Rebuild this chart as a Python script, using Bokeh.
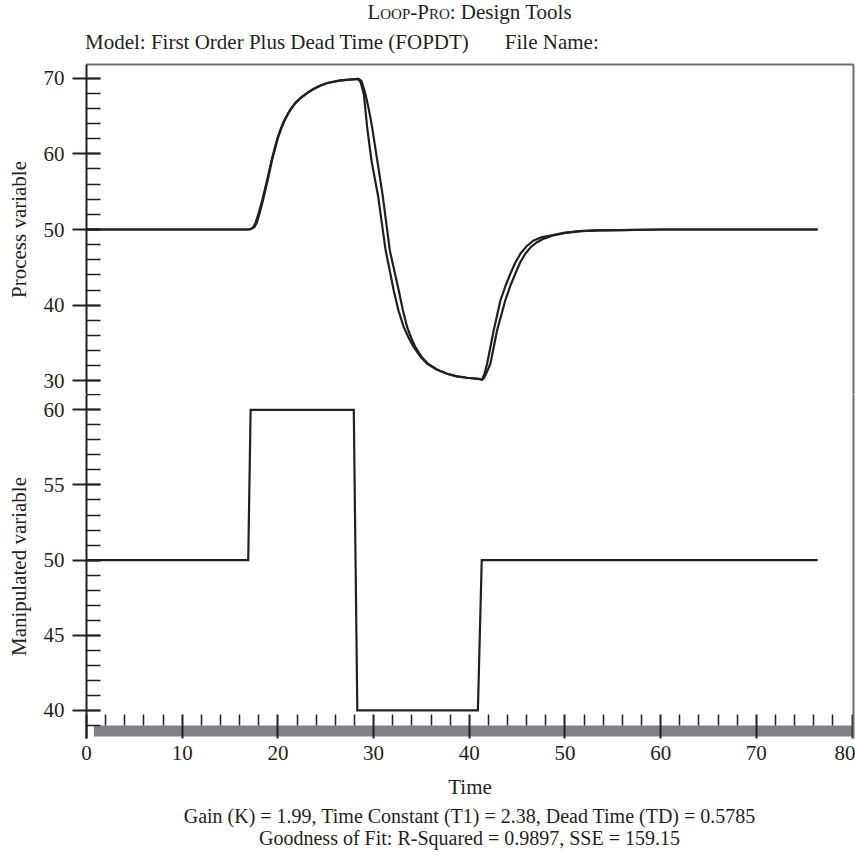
from bokeh.plotting import figure
from bokeh.models import Range1d, LinearAxis, SingleIntervalTicker, FixedTicker, Div
from bokeh.layouts import column
from bokeh.embed import file_html
from bokeh.resources import INLINE

FONT = "Liberation Serif"
INK = "#231f20"
FRAME_GRAY = "#6d6e71"
BAR_GRAY = "#808285"
FS = "21px"

# ---------------- data ----------------
# Manipulated variable (controller output) vs time
MV_T = [0, 16.9, 17.15, 27.93, 28.3, 40.9, 41.3, 76.4]
MV_V = [50, 50, 60, 60, 40, 40, 50, 50]

# Process variable, curve A (measured)
PV_A_T = [0, 16.9, 17.2, 17.45, 17.67, 18.0, 18.37, 18.89, 19.41, 19.94, 20.3, 20.63,
          21.0, 21.33, 21.8, 22.37, 23.0, 23.76, 24.4, 25.16, 26.54, 27.5, 28.35,
          28.63, 28.98, 29.33, 29.78, 30.46, 31.24, 32.11, 32.6, 33.15, 33.7, 34.2,
          34.9, 35.6, 36.6, 37.68, 38.7, 39.77, 41.16, 41.34, 41.6, 41.86, 42.2,
          42.55, 43.25, 43.8, 44.29, 44.8, 45.34, 46.0, 46.72, 47.5, 48.46, 49.9,
          51.59, 53.5, 55.77, 60, 76.4]
PV_A_V = [50, 50, 50.1, 50.35, 50.9, 52.2, 53.9, 56.6, 59.5, 62.0, 63.3, 64.3,
          65.2, 65.9, 66.7, 67.4, 68.0, 68.6, 69.0, 69.35, 69.7, 69.8, 69.9,
          69.5, 67.9, 63.5, 59.1, 54.5, 47.4, 41.9, 39.3, 37.1, 35.6, 34.45,
          33.2, 32.26, 31.5, 30.94, 30.6, 30.41, 30.22, 30.15, 31.0, 32.26, 34.4,
          36.66, 40.62, 42.6, 44.15, 45.6, 46.79, 47.8, 48.55, 48.95, 49.21, 49.55,
          49.78, 49.88, 49.93, 50, 50]

# Process variable, curve B (FOPDT model fit)
PV_B_T = [0, 17.0, 17.3, 17.55, 17.8, 18.1, 18.45, 18.95, 19.45, 19.98, 20.33, 20.66,
          21.02, 21.36, 21.83, 22.4, 23.02, 23.78, 24.42, 25.17, 26.55, 27.5, 28.45,
          28.74, 29.15, 29.5, 29.85, 30.4, 30.95, 31.7, 32.63, 33.05, 33.51, 33.95,
          34.37, 35.0, 35.68, 36.6, 37.68, 38.7, 39.77, 41.16, 41.34, 41.55, 41.85,
          42.2, 42.55, 42.9, 43.76, 44.3, 44.81, 45.3, 45.85, 46.45, 47.08, 47.8,
          48.67, 50.0, 51.6, 53.5, 55.8, 60, 76.4]
PV_B_V = [50, 50, 50.1, 50.35, 50.9, 52.2, 53.9, 56.6, 59.5, 62.0, 63.3, 64.3,
          65.2, 65.9, 66.7, 67.4, 68.0, 68.6, 69.0, 69.35, 69.7, 69.8, 69.9,
          69.6, 67.9, 65.9, 63.5, 59.0, 54.5, 47.2, 41.94, 39.4, 37.09, 35.6,
          34.45, 33.2, 32.26, 31.5, 30.94, 30.6, 30.41, 30.22, 30.15, 30.4, 31.2,
          32.26, 34.4, 36.66, 40.62, 42.6, 44.15, 45.6, 46.79, 47.7, 48.32, 48.8,
          49.17, 49.55, 49.78, 49.88, 49.93, 50, 50]

TITLE_SC = "Loop-Pro"
TITLE_REST = ": Design Tools"
MODEL_TEXT = "Model: First Order Plus Dead Time (FOPDT)"
FILE_TEXT = "File Name:"
X_LABEL = "Time"
PV_LABEL = "Process variable"
MV_LABEL = "Manipulated variable"
CAPTION_1 = "Gain (K) = 1.99, Time Constant (T1) = 2.38, Dead Time (TD) = 0.5785"
CAPTION_2 = "Goodness of Fit: R-Squared = 0.9897, SSE = 159.15"

# axis ranges and ticks
X_START, X_END = 0, 80.15
PV_LO, PV_HI = 28.2, 71.8
MV_LO, MV_HI = 38.13, 61.02
X_MINOR_TICKS = [2, 4, 6, 8, 12, 14, 16, 18, 22, 24, 26, 28, 32, 34, 36, 38,
                 42, 44, 46, 48, 52, 54, 56, 58, 62, 64, 66, 68, 72, 74, 76, 78]
# scroll-bar strip at the bottom of the lower panel
BAR_LEFT, BAR_BOTTOM, BAR_TOP = 0.77, 38.26, 39.0

# ---------------- layout ----------------
W = 855
LEFT = 86

x_range = Range1d(X_START, X_END)


def style_y(ax, interval, label):
    ax.ticker = SingleIntervalTicker(interval=interval, num_minor_ticks=5)
    ax.axis_label = label
    ax.axis_line_color = INK
    ax.axis_line_width = 2
    ax.major_tick_in = 14
    ax.major_tick_out = 14
    ax.minor_tick_in = 14
    ax.minor_tick_out = 0
    ax.major_tick_line_color = INK
    ax.major_tick_line_width = 2
    ax.minor_tick_line_color = INK
    ax.minor_tick_line_width = 1.5
    ax.major_label_text_font = FONT
    ax.major_label_text_font_size = FS
    ax.major_label_text_color = INK
    ax.major_label_standoff = 8
    ax.axis_label_text_font = FONT
    ax.axis_label_text_font_size = FS
    ax.axis_label_text_font_style = "normal"
    ax.axis_label_text_color = INK
    ax.axis_label_standoff = 10


def border_axis(p, side):
    ax = LinearAxis(ticker=FixedTicker(ticks=[]), axis_line_color=FRAME_GRAY,
                    axis_line_width=2, major_tick_in=0, major_tick_out=0,
                    minor_tick_in=0, minor_tick_out=0, major_label_standoff=0)
    p.add_layout(ax, side)


pv = figure(width=W, height=340, x_range=x_range, y_range=Range1d(PV_LO, PV_HI),
            output_backend="svg", toolbar_location=None, x_axis_location=None,
            min_border_left=LEFT, min_border_right=2, min_border_top=10,
            min_border_bottom=0)
mv = figure(width=W, height=410, x_range=x_range, y_range=Range1d(MV_LO, MV_HI),
            output_backend="svg", toolbar_location=None,
            min_border_left=LEFT, min_border_right=2, min_border_top=0,
            min_border_bottom=66)

for p in (pv, mv):
    p.grid.grid_line_color = None
    p.outline_line_color = None
    p.background_fill_color = "white"
    p.border_fill_color = "white"
    border_axis(p, "right")
border_axis(pv, "above")

style_y(pv.yaxis[0], 10, PV_LABEL)
style_y(mv.yaxis[0], 5, MV_LABEL)

# main x axis: long major ticks through the strip, labels below
xa = mv.xaxis[0]
xa.ticker = SingleIntervalTicker(interval=10, num_minor_ticks=5)
xa.axis_line_color = None
xa.major_tick_in = 24
xa.major_tick_out = 0
xa.minor_tick_in = 0
xa.minor_tick_out = 0
xa.major_tick_line_color = INK
xa.major_tick_line_width = 2
xa.major_label_text_font = FONT
xa.major_label_text_font_size = FS
xa.major_label_text_color = INK
xa.major_label_standoff = 7
xa.axis_label = X_LABEL
xa.axis_label_text_font = FONT
xa.axis_label_text_font_size = FS
xa.axis_label_text_font_style = "normal"
xa.axis_label_text_color = INK
xa.axis_label_standoff = 12

# short minor ticks sitting on top of the strip
xm = LinearAxis(fixed_location=BAR_TOP,
                ticker=FixedTicker(ticks=[], minor_ticks=X_MINOR_TICKS),
                axis_line_color=None, major_tick_in=0, major_tick_out=0,
                minor_tick_in=11, minor_tick_out=0,
                minor_tick_line_color=INK, minor_tick_line_width=1.5,
                major_label_standoff=0)
mv.add_layout(xm, "below")

mv.quad(left=[BAR_LEFT], right=[X_END + 1], bottom=[BAR_BOTTOM], top=[BAR_TOP],
        fill_color=BAR_GRAY, line_color=None, level="underlay")

pv.line(PV_A_T, PV_A_V, line_color=INK, line_width=2.2, line_join="round")
pv.line(PV_B_T, PV_B_V, line_color=INK, line_width=2.2, line_join="round")
mv.line(MV_T, MV_V, line_color=INK, line_width=2.2, line_join="miter")

header_html = (
    f'<div style="font-family:\'{FONT}\';font-size:{FS};color:{INK};width:{W}px;">'
    f'<div style="height:24px;line-height:24px;padding-left:{LEFT}px;padding-right:2px;text-align:center;">'
    f'<span style="font-variant:small-caps;">{TITLE_SC}</span>{TITLE_REST}</div>'
    f'<div style="margin-top:8px;height:20px;line-height:20px;padding-left:{LEFT - 1}px;white-space:pre;">'
    f'{MODEL_TEXT}<span style="padding-left:36px;">{FILE_TEXT}</span></div>'
    f'</div>'
)
header = Div(text=header_html, width=W, height=54, margin=(0, 0, 0, 0))

caption_html = (
    f'<div style="font-family:\'{FONT}\';font-size:20px;color:{INK};width:{W}px;'
    f'padding-top:1px;line-height:22px;">'
    f'<div style="padding-left:{LEFT}px;padding-right:2px;text-align:center;white-space:nowrap;">{CAPTION_1}</div>'
    f'<div style="padding-left:{LEFT}px;padding-right:2px;text-align:center;white-space:nowrap;">{CAPTION_2}</div>'
    f'</div>'
)
caption = Div(text=caption_html, width=W, height=50, margin=(0, 0, 0, 0))

layout = column(header, pv, mv, caption, spacing=0)

with open("out.html", "w") as f:
    f.write(file_html(layout, INLINE))
